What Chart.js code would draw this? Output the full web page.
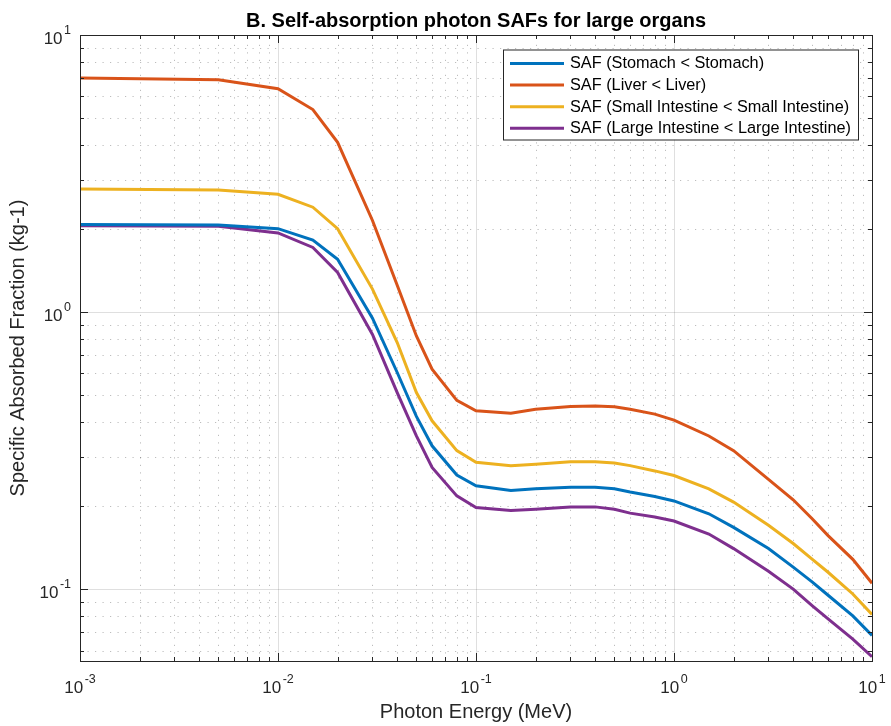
<!DOCTYPE html>
<html>
<head>
<meta charset="utf-8">
<script src="https://cdn.jsdelivr.net/npm/chart.js@4.4.1/dist/chart.umd.min.js"></script>
<style>
  html, body { margin: 0; padding: 0; background: #fff; }
  #wrap { width: 891px; height: 726px; }
</style>
</head>
<body>
<div id="wrap"><canvas id="grafico"></canvas></div>
<script>
// Energías (MeV)
const energies = [0.001, 0.005, 0.01, 0.015, 0.02, 0.03, 0.04, 0.05, 0.06, 0.08, 0.1, 0.15, 0.2, 0.3, 0.4, 0.5, 0.6, 0.8, 1, 1.5, 2, 3, 4, 5, 6, 8, 10];

// SAF (kg-1)
const stomach = [2.07, 2.06, 2.0, 1.82, 1.55, 0.95, 0.605, 0.42, 0.329, 0.258, 0.236, 0.227, 0.230, 0.233, 0.233, 0.230, 0.224, 0.216, 0.208, 0.187, 0.167, 0.140, 0.120, 0.106, 0.095, 0.080, 0.068];
const liver = [7.0, 6.9, 6.4, 5.38, 4.1, 2.14, 1.25, 0.82, 0.622, 0.48, 0.44, 0.431, 0.446, 0.456, 0.458, 0.455, 0.446, 0.428, 0.407, 0.357, 0.316, 0.249, 0.210, 0.179, 0.156, 0.128, 0.105];
const smallInt = [2.78, 2.76, 2.66, 2.39, 2.0, 1.21, 0.776, 0.512, 0.405, 0.316, 0.287, 0.279, 0.282, 0.288, 0.288, 0.285, 0.279, 0.267, 0.257, 0.230, 0.206, 0.170, 0.146, 0.128, 0.115, 0.096, 0.081];
const largeInt = [2.05, 2.04, 1.93, 1.71, 1.39, 0.83, 0.512, 0.357, 0.275, 0.217, 0.197, 0.192, 0.194, 0.198, 0.198, 0.194, 0.188, 0.182, 0.176, 0.158, 0.140, 0.116, 0.100, 0.087, 0.078, 0.066, 0.057];

const seriesLabels = [
    'SAF (Stomach < Stomach)',
    'SAF (Liver < Liver)',
    'SAF (Small Intestine < Small Intestine)',
    'SAF (Large Intestine < Large Intestine)'
];
const seriesColors = ['#0072BD', '#D95319', '#EDB120', '#7E2F8E'];

// Marcas de los ejes (base 10 y exponente)
const xTicks = [0.001, 0.01, 0.1, 1, 10];
const xTickExps = ['-3', '-2', '-1', '0', '1'];
const yTicks = [0.1, 1, 10];
const yTickExps = ['-1', '0', '1'];

const tituloGrafico = 'B. Self-absorption photon SAFs for large organs';
const fontFam = "'Liberation Sans', Arial, Helvetica, sans-serif";
const axisColor = '#262626';

// Dibuja "10" con exponente; align: 'center' o 'right'
function drawPow(ctx, exp, x, baseY, align) {
    ctx.font = '17px ' + fontFam;
    const wb = ctx.measureText('10').width;
    ctx.font = '12.5px ' + fontFam;
    const we = ctx.measureText(exp).width;
    const gap = 1.5;
    const total = wb + gap + we;
    const x0 = align === 'center' ? x - total / 2 : x - total;
    ctx.textAlign = 'left';
    ctx.textBaseline = 'alphabetic';
    ctx.font = '17px ' + fontFam;
    ctx.fillText('10', x0, baseY);
    ctx.font = '12.5px ' + fontFam;
    ctx.fillText(exp, x0 + wb + gap, baseY - 10);
}

// Rejilla, marcas y caja estilo MATLAB
const gridPlugin = {
    id: 'gridPlugin',
    beforeDatasetsDraw(chart) {
        const { ctx, chartArea: a } = chart;
        const xs = chart.scales.x, ys = chart.scales.y;
        const minorX = [], minorY = [];
        for (let e = -3; e <= 1; e++) {
            for (let k = 2; k <= 9; k++) {
                const v = k * Math.pow(10, e);
                if (v > xs.min && v < xs.max) minorX.push(v);
                if (v > ys.min && v < ys.max) minorY.push(v);
            }
        }
        ctx.save();
        // menores punteadas
        ctx.strokeStyle = 'rgba(38,38,38,0.3)';
        ctx.lineWidth = 1;
        ctx.setLineDash([1.2, 6.3]);
        minorX.forEach(v => {
            const px = Math.round(xs.getPixelForValue(v)) + 0.5;
            ctx.beginPath(); ctx.moveTo(px, a.bottom); ctx.lineTo(px, a.top); ctx.stroke();
        });
        minorY.forEach(v => {
            const py = Math.round(ys.getPixelForValue(v)) + 0.5;
            ctx.beginPath(); ctx.moveTo(a.left, py); ctx.lineTo(a.right, py); ctx.stroke();
        });
        // mayores sólidas
        ctx.setLineDash([]);
        ctx.strokeStyle = 'rgba(38,38,38,0.15)';
        xTicks.forEach(v => {
            const px = Math.round(xs.getPixelForValue(v)) + 0.5;
            ctx.beginPath(); ctx.moveTo(px, a.bottom); ctx.lineTo(px, a.top); ctx.stroke();
        });
        yTicks.forEach(v => {
            const py = Math.round(ys.getPixelForValue(v)) + 0.5;
            ctx.beginPath(); ctx.moveTo(a.left, py); ctx.lineTo(a.right, py); ctx.stroke();
        });
        ctx.restore();
        chart.$minor = { minorX, minorY };
    },
    afterDatasetsDraw(chart) {
        const { ctx, chartArea: a } = chart;
        const xs = chart.scales.x, ys = chart.scales.y;
        const { minorX, minorY } = chart.$minor;
        ctx.save();
        ctx.strokeStyle = axisColor;
        ctx.lineWidth = 1;
        const tickX = (v, len) => {
            const px = Math.round(xs.getPixelForValue(v)) + 0.5;
            ctx.beginPath();
            ctx.moveTo(px, a.bottom); ctx.lineTo(px, a.bottom - len);
            ctx.moveTo(px, a.top); ctx.lineTo(px, a.top + len);
            ctx.stroke();
        };
        const tickY = (v, len) => {
            const py = Math.round(ys.getPixelForValue(v)) + 0.5;
            ctx.beginPath();
            ctx.moveTo(a.left, py); ctx.lineTo(a.left + len, py);
            ctx.moveTo(a.right, py); ctx.lineTo(a.right - len, py);
            ctx.stroke();
        };
        minorX.forEach(v => tickX(v, 4));
        minorY.forEach(v => tickY(v, 4));
        xTicks.forEach(v => tickX(v, 8));
        yTicks.forEach(v => tickY(v, 8));
        ctx.strokeRect(Math.round(a.left) + 0.5, Math.round(a.top) + 0.5,
            Math.round(a.right - a.left), Math.round(a.bottom - a.top));

        // Etiquetas de las marcas
        ctx.fillStyle = axisColor;
        xTicks.forEach((v, i) => drawPow(ctx, xTickExps[i], xs.getPixelForValue(v), a.bottom + 31.5, 'center'));
        yTicks.forEach((v, i) => drawPow(ctx, yTickExps[i], a.left - 9, ys.getPixelForValue(v) + 9, 'right'));

        // Leyenda dentro del área
        const lx = 503, ly = 49.5, lw = 355, lh = 90;
        ctx.fillStyle = '#fff';
        ctx.fillRect(lx, ly, lw, lh);
        ctx.strokeStyle = axisColor;
        ctx.strokeRect(lx + 0.5, ly + 0.5, lw, lh);
        ctx.font = '16.3px ' + fontFam;
        ctx.textAlign = 'left';
        ctx.textBaseline = 'middle';
        chart.data.datasets.forEach((ds, i) => {
            const yy = ly + 14 + i * 21.6;
            ctx.strokeStyle = ds.borderColor;
            ctx.lineWidth = 3;
            ctx.beginPath(); ctx.moveTo(lx + 7, yy); ctx.lineTo(lx + 61, yy); ctx.stroke();
            ctx.fillStyle = '#000';
            ctx.fillText(ds.label, lx + 67, yy + 0.5);
        });

        // Título
        ctx.fillStyle = '#000';
        ctx.font = 'bold 20px ' + fontFam;
        ctx.textAlign = 'center';
        ctx.textBaseline = 'alphabetic';
        ctx.fillText(tituloGrafico, (a.left + a.right) / 2, 26.5);
        ctx.restore();
    }
};

const ctx = document.getElementById('grafico').getContext('2d');

new Chart(ctx, {
    type: 'line',
    data: {
        datasets: [stomach, liver, smallInt, largeInt].map((serie, i) => ({
            label: seriesLabels[i],
            data: energies.map((e, j) => ({ x: e, y: serie[j] })),
            borderColor: seriesColors[i],
            backgroundColor: seriesColors[i],
            borderWidth: 3,
            pointRadius: 0,
            tension: 0
        }))
    },
    options: {
        responsive: true,
        maintainAspectRatio: false,
        animation: false,
        layout: { padding: { left: 5, top: 35, right: 19, bottom: 0 } },
        plugins: {
            legend: { display: false },
            tooltip: { enabled: false }
        },
        scales: {
            x: {
                type: 'logarithmic',
                min: 0.001,
                max: 10,
                afterFit: s => { s.height = 65; s.paddingLeft = 0; s.paddingRight = 0; },
                grid: { display: false, drawTicks: false },
                border: { display: false },
                ticks: { display: false },
                title: {
                    display: true,
                    text: 'Photon Energy (MeV)',
                    color: axisColor,
                    padding: { top: 0, bottom: 2 },
                    font: { family: fontFam, size: 20 }
                }
            },
            y: {
                type: 'logarithmic',
                min: 0.055,
                max: 10,
                afterFit: s => { s.width = 75; s.paddingTop = 0; s.paddingBottom = 0; },
                grid: { display: false, drawTicks: false },
                border: { display: false },
                ticks: { display: false },
                title: {
                    display: true,
                    text: 'Specific Absorbed Fraction (kg-1)',
                    color: axisColor,
                    padding: { top: 1.5, bottom: 0 },
                    font: { family: fontFam, size: 20 }
                }
            }
        }
    },
    plugins: [gridPlugin]
});
</script>
</body>
</html>
